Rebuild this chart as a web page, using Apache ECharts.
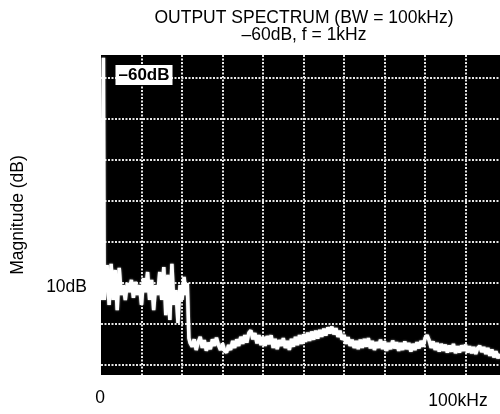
<!DOCTYPE html>
<html>
<head>
<meta charset="utf-8">
<script src="https://cdn.jsdelivr.net/npm/echarts@6/dist/echarts.min.js"></script>
<style>
  html, body { margin: 0; padding: 0; background: #fff; }
  #chart { width: 500px; height: 414px; }
</style>
</head>
<body>
<div id="chart"></div>
<script>
// texts
const titleLines = ['OUTPUT SPECTRUM (BW = 100kHz)', '–60dB, f = 1kHz'];
const xTickLabels = ['0', '100kHz'];
const yScaleLabel = '10dB';
const levelTag = '–60dB';

// trace: frequency (kHz) and magnitude (dB, 10dB/div)
const freqKHz = [
  0, 0.4, 0.6, 0.8, 1.0, 1.5, 2.0, 2.5, 3.0, 3.5, 4.0, 4.5, 5.0, 5.5, 6.0, 6.5, 7.0, 7.5, 8.0, 8.5,
  9.0, 9.5, 10.0, 10.5, 11.0, 11.5, 12.0, 12.5, 13.0, 13.5, 14.0, 14.5, 15.0, 15.5, 16.0, 16.5,
  17.0, 17.5, 18.0, 18.5, 19.0, 19.5, 20.0, 20.5, 21.0, 21.3, 21.7,
  22, 22.5, 23, 23.5, 24, 24.5, 25, 25.5, 26, 26.5, 27, 27.5, 28, 28.5, 29, 29.5,
  30, 30.5, 31, 31.5, 32, 32.5, 33, 33.5, 34, 34.5, 35, 35.5, 36, 36.5, 37, 37.5, 38, 38.5, 39, 39.5,
  40, 40.5, 41, 41.5, 42, 42.5, 43, 43.5, 44, 44.5, 45, 45.5, 46, 46.5, 47, 47.5, 48, 48.5, 49, 49.5,
  50, 50.5, 51, 51.5, 52, 52.5, 53, 53.5, 54, 54.5, 55, 55.5, 56, 56.5, 57, 57.5, 58, 58.5, 59, 59.5,
  60, 60.5, 61, 61.5, 62, 62.5, 63, 63.5, 64, 64.5, 65, 65.5, 66, 66.5, 67, 67.5, 68, 68.5, 69, 69.5,
  70, 70.5, 71, 71.5, 72, 72.5, 73, 73.5, 74, 74.5, 75, 75.5, 76, 76.5, 77, 77.5, 78, 78.5, 79, 79.5,
  80, 80.5, 81, 81.5, 82, 82.5, 83, 83.5, 84, 84.5, 85, 85.5, 86, 86.5, 87, 87.5, 88, 88.5, 89, 89.5,
  90, 90.5, 91, 91.5, 92, 92.5, 93, 93.5, 94, 94.5, 95, 95.5, 96, 96.5, 97, 97.5, 98, 98.5
];
const magDb = [
  -54.2, -54.2, 4.8, -54.2, -54.2, -45.7, -55.4, -45.4, -54.2, -46.9, -56.7, -46.4, -53.0, -50.6, -54.2, -50.1, -52.3, -49.3, -53.7, -49.8,
  -53.0, -50.6, -55.4, -48.9, -52.3, -47.4, -54.2, -49.3, -56.7, -50.6, -53.0, -47.4, -54.2, -46.2, -57.9, -48.1,
  -59.1, -45.4, -55.4, -51.8, -59.8, -50.6, -54.2, -48.6, -53.0, -50.1, -63.5,
  -64.7, -65.6, -63.8, -66.4, -64.5, -63.2, -65.9, -64.0, -66.6, -64.6, -66.2, -63.8, -65.4, -63.4, -65.2, -66.4,
  -64.8, -66.6, -67.0, -65.2, -66.4, -64.2, -65.9, -63.8, -65.4, -63.2, -64.9, -62.8, -64.6, -62.2, -61.6, -63.8, -62.3, -64.8, -62.8, -65.2,
  -63.2, -65.4, -63.0, -65.0, -62.8, -65.9, -63.7, -66.2, -64.0, -65.4, -63.5, -65.9, -64.2, -66.4, -63.7, -65.6, -63.2, -65.2, -62.8, -64.9,
  -62.6, -64.4, -62.2, -64.2, -61.9, -63.9, -61.7, -63.6, -61.5, -63.2, -61.2, -62.9, -60.9, -62.4, -60.7, -62.6, -61.1, -63.2, -61.7, -63.9,
  -62.7, -64.9, -63.3, -65.4, -63.9, -65.9, -64.2, -66.2, -63.9, -65.9, -63.7, -65.6, -63.5, -66.0, -64.2, -66.4, -64.5, -65.9, -63.9, -66.2,
  -64.3, -66.6, -64.7, -66.2, -64.1, -66.0, -64.5, -66.6, -64.7, -66.4, -64.3, -66.2, -64.7, -66.8, -64.9, -66.4, -64.5, -66.0, -64.2, -65.6,
  -63.5, -62.8, -64.0, -65.9, -64.3, -66.4, -64.7, -66.8, -64.9, -66.6, -65.1, -67.0, -65.3, -66.8, -64.9, -67.2, -65.5, -67.0, -65.3, -66.6,
  -65.1, -67.0, -65.5, -67.2, -65.7, -67.4, -65.9, -65.4, -66.9, -65.7, -67.4, -65.9, -67.8, -66.3, -68.2, -66.7, -68.4, -67.4
];

const font = '"Liberation Sans", Arial, sans-serif';
const chart = echarts.init(document.getElementById('chart'));

const dotted = {
  show: true,
  showMinLine: false,
  showMaxLine: false,
  lineStyle: { color: '#e6e6e6', width: 2, type: [2, 1.5] }
};

chart.setOption({
  animation: false,
  grid: {
    left: 101, top: 55, right: 0, bottom: 39,
    outerBoundsMode: 'none',
    show: true, backgroundColor: '#000', borderWidth: 0
  },
  xAxis: {
    type: 'value',
    min: 0, max: 98.5, interval: 10,
    axisLine: { show: false },
    axisTick: { show: false },
    axisLabel: { show: false },
    splitLine: dotted
  },
  yAxis: {
    type: 'value',
    min: -72.5, max: 5.5,
    splitNumber: 8, minInterval: 10, maxInterval: 10,
    name: 'Magnitude (dB)',
    nameLocation: 'middle',
    nameGap: 74,
    nameTextStyle: { color: '#000', fontSize: 17.5, fontFamily: font },
    axisLine: { show: false },
    axisTick: { show: false },
    axisLabel: { show: false },
    splitLine: dotted
  },
  series: [{
    type: 'line',
    data: freqKHz.map((f, i) => [f, magDb[i]]),
    showSymbol: false,
    clip: true,
    lineStyle: { color: '#fff', width: 3.5, shadowColor: 'rgba(255,255,255,0.7)', shadowBlur: 2 },
    z: 5
  }],
  graphic: [
    { type: 'text', x: 304, y: 18, style: { text: titleLines[0], font: '17.5px ' + font, fill: '#000', align: 'center', verticalAlign: 'middle' } },
    { type: 'text', x: 304, y: 35, style: { text: titleLines[1], font: '17.5px ' + font, fill: '#000', align: 'center', verticalAlign: 'middle' } },
    { type: 'text', x: 100, y: 398, style: { text: xTickLabels[0], font: '17.5px ' + font, fill: '#000', align: 'center', verticalAlign: 'middle' } },
    { type: 'text', x: 458, y: 401, style: { text: xTickLabels[1], font: '17.5px ' + font, fill: '#000', align: 'center', verticalAlign: 'middle' } },
    { type: 'text', x: 87, y: 287, style: { text: yScaleLabel, font: '17.5px ' + font, fill: '#000', align: 'right', verticalAlign: 'middle' } },
    {
      type: 'text', x: 144, y: 75, z: 10,
      style: {
        text: levelTag, font: 'bold 17px ' + font, fill: '#000',
        align: 'center', verticalAlign: 'middle',
        backgroundColor: '#fff', padding: [2, 3, 1, 3]
      }
    }
  ]
});
</script>
</body>
</html>
